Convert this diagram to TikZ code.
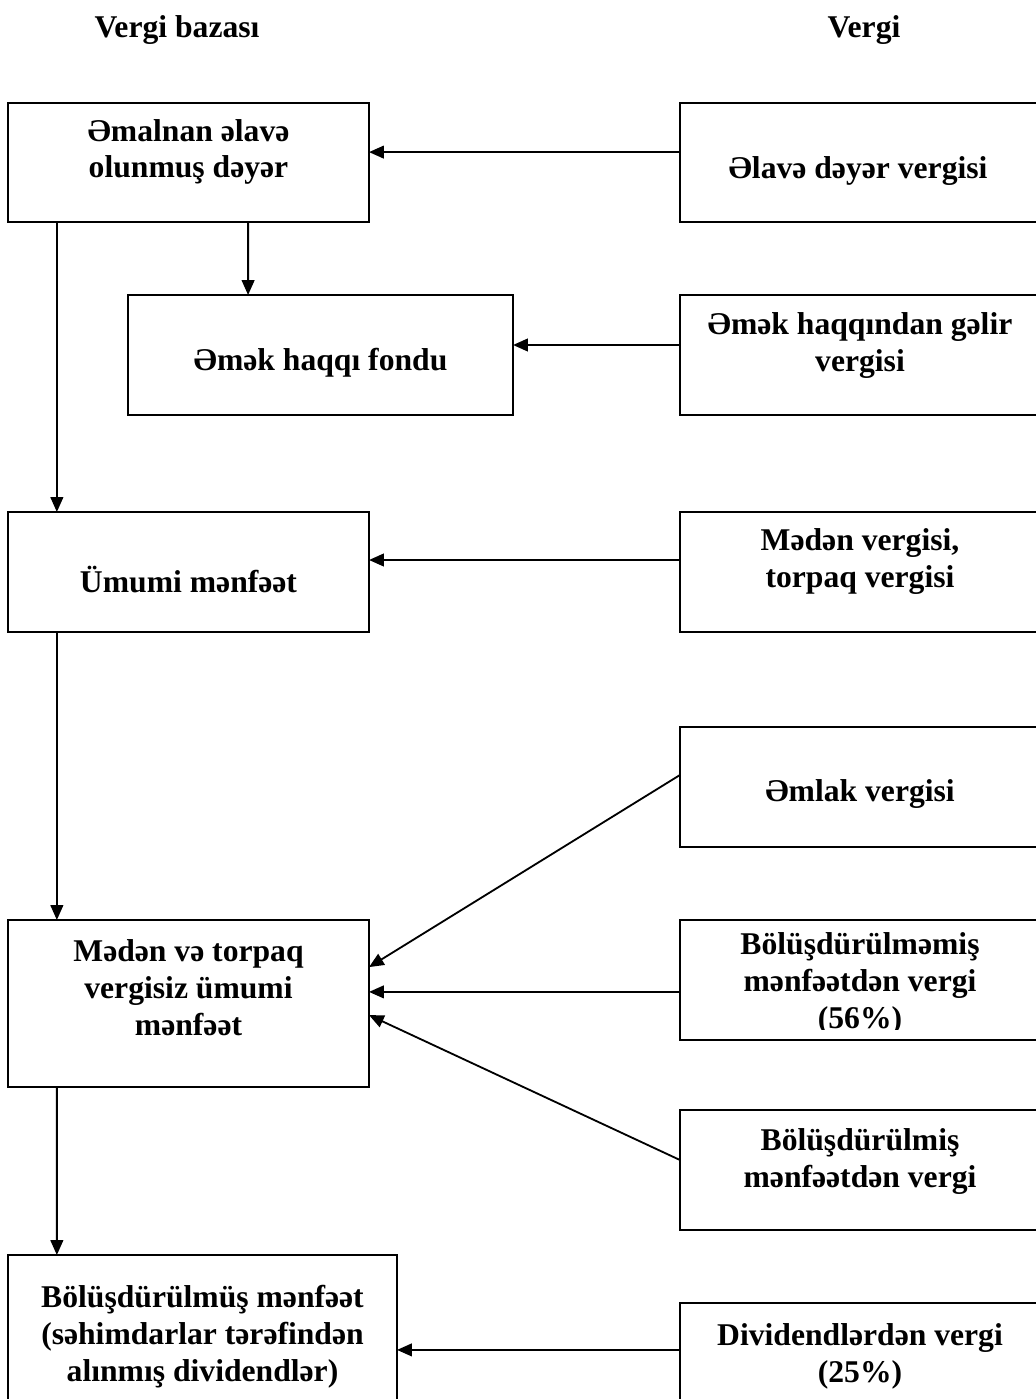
\documentclass[tikz,border=0pt]{standalone}
\usepackage{fontspec}
\setmainfont{Liberation Serif}
\usepackage{tikz}
\usetikzlibrary{arrows.meta}

\begin{document}
\begin{tikzpicture}[x=0.025cm,y=-0.025cm,shape=rectangle,
  >={Triangle[length=10.5pt,width=9pt]},
  box/.style={draw,line width=1.3pt,inner sep=0pt,outer sep=0pt},
  boxtext/.style={inner sep=0pt,align=center,
    font=\bfseries\fontsize{22.5}{26.2}\selectfont},
  link/.style={->,line width=1.3pt}]
\useasboundingbox (0,0) rectangle (1035,1399);

\node (baseHead) [boxtext] at (177,30) {Vergi bazası};
\node (taxHead) [boxtext] at (864,30) {Vergi};

% left column: tax base
\node (addedValue) [box, minimum width=9.025cm, minimum height=2.975cm]
  at (188.5,162.5) {};
\node (addedValueText) [boxtext] at (188.5,152) {Əmalnan əlavə\\olunmuş dəyər};
\node (wageFund) [box, minimum width=9.625cm, minimum height=3cm]
  at (320.5,355) {};
\node (wageFundText) [boxtext] at (320.5,363) {Əmək haqqı fondu};
\node (grossProfit) [box, minimum width=9.025cm, minimum height=3cm]
  at (188.5,572) {};
\node (grossProfitText) [boxtext] at (188.5,580) {Ümumi mənfəət};
\node (netProfit) [box, minimum width=9.025cm, minimum height=4.175cm]
  at (188.5,1003.5) {};
\node (netProfitText) [boxtext] at (188.5,988)
  {Mədən və torpaq\\vergisiz ümumi\\mənfəət};
\node (distProfit) [box, minimum width=9.725cm, minimum height=4.125cm]
  at (202.5,1337.5) {};
\node (distProfitText) [boxtext] at (202.5,1337)
  {Bölüşdürülmüş mənfəət\\(səhimdarlar tərəfindən\\alınmış dividendlər)};

% right column: taxes
\node (vatTax) [box, minimum width=9.5cm, minimum height=2.975cm]
  at (870,162.5) {};
\node (vatTaxText) [boxtext] at (858,171) {Əlavə dəyər vergisi};
\node (wageTax) [box, minimum width=9.5cm, minimum height=3cm]
  at (870,355) {};
\node (wageTaxText) [boxtext] at (860,345.5) {Əmək haqqından gəlir\\vergisi};
\node (miningTax) [box, minimum width=9.5cm, minimum height=3cm]
  at (870,572) {};
\node (miningTaxText) [boxtext] at (860,561.5) {Mədən vergisi,\\torpaq vergisi};
\node (propertyTax) [box, minimum width=9.5cm, minimum height=3cm]
  at (870,787) {};
\node (propertyTaxText) [boxtext] at (860,794) {Əmlak vergisi};
\node (undistTax) [box, minimum width=9.5cm, minimum height=3cm]
  at (870,980) {};
\begin{scope}
\clip (680,920) rectangle (1100,1029);
\node (undistTaxText) [boxtext] at (860,984)
  {Bölüşdürülməmiş\\mənfəətdən vergi\\(56\%)};
\end{scope}
\node (distTax) [box, minimum width=9.5cm, minimum height=3cm]
  at (870,1170) {};
\node (distTaxText) [boxtext] at (860,1161.5)
  {Bölüşdürülmiş\\mənfəətdən vergi};
\node (dividendTax) [box, minimum width=9.5cm, minimum height=2.925cm]
  at (870,1361.5) {};
\node (dividendTaxText) [boxtext] at (860,1356.5)
  {Dividendlərdən vergi\\(25\%)};

\draw[link] ([xshift=-3.29cm]addedValue.south) -- ([xshift=-3.29cm]grossProfit.north);
\draw[link] ([xshift=1.49cm]addedValue.south) -- ([xshift=-1.81cm]wageFund.north);
\draw[link] ([xshift=-3.29cm]grossProfit.south) -- ([xshift=-3.29cm]netProfit.north);
\draw[link] ([xshift=-3.29cm]netProfit.south) -- ([xshift=-3.64cm]distProfit.north);

\draw[link] ([yshift=0.26cm]vatTax.west) -- ([yshift=0.26cm]addedValue.east);
\draw[link] ([yshift=0.25cm]wageTax.west) -- ([yshift=0.25cm]wageFund.east);
\draw[link] ([yshift=0.3cm]miningTax.west) -- ([yshift=0.3cm]grossProfit.east);
\draw[link] ([yshift=0.3cm]propertyTax.west) -- ([yshift=0.91cm]netProfit.east);
\draw[link] ([yshift=-0.3cm]undistTax.west) -- ([yshift=0.29cm]netProfit.east);
\draw[link] ([yshift=0.25cm]distTax.west) -- ([yshift=-0.29cm]netProfit.east);
\draw[link] ([yshift=0.29cm]dividendTax.west) -- ([yshift=-0.31cm]distProfit.east);
\end{tikzpicture}
\end{document}
